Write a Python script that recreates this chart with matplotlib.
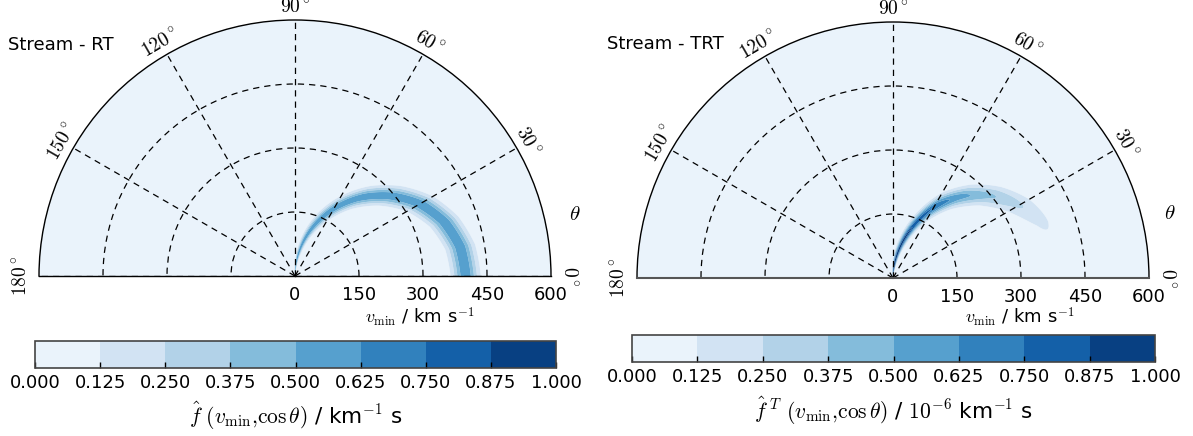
import numpy as np
import matplotlib
matplotlib.use('Agg')
import matplotlib.pyplot as plt

plt.rcParams['mathtext.fontset'] = 'cm'
plt.rcParams['font.family'] = ['DejaVu Sans']

W, H = 1193, 436

# ---------------- data ----------------
levels = [0.0, 0.125, 0.25, 0.375, 0.5, 0.625, 0.75, 0.875, 1.0]
level_labels = ['0.000', '0.125', '0.250', '0.375', '0.500', '0.625', '0.750', '0.875', '1.000']
theta_ticks_deg = [0, 30, 60, 90, 120, 150, 180]
r_ticks = [0, 150, 300, 450, 600]

# ridge description of each panel (angle in degrees -> ridge v_min, peak value, width)
ridge_theta_deg = [0, 10, 20, 30, 40, 50, 60, 70, 80, 90, 100]
rt_ridge_r = [400, 393, 372, 338, 292, 240, 182, 122, 60, 0, -60]
rt_ridge_amp = [0.60, 0.60, 0.60, 0.60, 0.60, 0.60, 0.60, 0.60, 0.60, 0.60, 0.60]
rt_ridge_width = [20, 20, 20, 20, 20, 20, 20, 20, 20, 20, 20]

trt_ridge_r = [400, 392, 373, 340, 298, 248, 190, 120, 55, 0, -55]
trt_ridge_amp = [0.00, 0.05, 0.15, 0.27, 0.40, 0.55, 0.74, 0.89, 0.97, 0.99, 0.99]
trt_ridge_width = [22, 22, 23, 23, 22, 22, 22, 22, 22, 22, 22]

titles = ['Stream - RT', 'Stream - TRT']
cbar_titles = [r'$\hat{f}\ (v_{\rm min}{,}\cos\theta)$ / km$^{-1}$ s',
               r'$\hat{f}^{\ T}\ (v_{\rm min}{,}\cos\theta)$ / $10^{-6}$ km$^{-1}$ s']


def build_field(r0, amp, sig):
    th = np.linspace(0, np.pi, 721)
    rr = np.linspace(0, 600, 901)
    TH, RR = np.meshgrid(th, rr)
    thd = np.degrees(th)
    R0 = np.interp(thd, ridge_theta_deg, r0)[None, :]
    A = np.interp(thd, ridge_theta_deg, amp)[None, :]
    S = np.interp(thd, ridge_theta_deg, sig)[None, :]
    Z = A * np.exp(-(RR - R0) ** 2 / (2 * S ** 2))
    return TH, RR, Z


fig = plt.figure(figsize=(W / 100, H / 100), dpi=100)

panels = [
    dict(ox=295, oy=276, R=256, field=(rt_ridge_r, rt_ridge_amp, rt_ridge_width),
         title_xy=(8, 45), theta_xy=(575, 214), xlabel_xy=(420, 323),
         cbar=(35, 341, 556, 368), cbar_label_y=416, base_color='k', base_lw=1.0),
    dict(ox=893, oy=278, R=256, field=(trt_ridge_r, trt_ridge_amp, trt_ridge_width),
         title_xy=(607, 44), theta_xy=(1170, 213), xlabel_xy=(1020, 323),
         cbar=(632, 335, 1155, 362), cbar_label_y=411, base_color='#555555', base_lw=1.5),
]

for i, p in enumerate(panels):
    ox, oy, R = p['ox'], p['oy'], p['R']
    # square axes whose wedge bbox (padded to square) holds the half disc
    cy = oy - R / 2
    left = ox - R
    top = cy - R
    rect = [left / W, (H - (top + 2 * R)) / H, 2 * R / W, 2 * R / H]
    ax = fig.add_axes(rect, projection='polar')
    ax.set_thetamin(0)
    ax.set_thetamax(180)

    TH, RR, Z = build_field(*p['field'])
    cs = ax.contourf(TH, RR, Z, levels=levels, cmap='Blues', antialiased=True)
    ax.set_rlim(0, 600)

    ax.set_xticks(np.radians(theta_ticks_deg))
    ax.set_xticklabels([])
    ax.set_yticks(r_ticks[1:-1])
    ax.set_yticklabels([])
    ax.tick_params(length=0)
    ax.grid(True, color='k', linestyle='--', linewidth=0.9, dashes=(5, 4))
    ax.spines['polar'].set_linewidth(1.0)
    ax.spines['polar'].set_color('k')
    for s in ('start', 'end', 'inner'):
        if s in ax.spines:
            ax.spines[s].set_color(p['base_color'])
            ax.spines[s].set_linewidth(p['base_lw'])

    # angle labels
    for d in theta_ticks_deg:
        rlab = 630 if d not in (0, 180) else 642
        ax.text(np.radians(d), rlab, r'$%d^\circ$' % d, rotation=d - 90,
                ha='center', va='center', fontsize=14)

    # radial labels under the baseline
    for rv in r_ticks:
        ax.annotate(f'{rv}', xy=(0, rv), xytext=(0, -13.5), textcoords='offset points',
                    ha='center', va='center', fontsize=13, annotation_clip=False)

    fig.text(p['title_xy'][0] / W, 1 - p['title_xy'][1] / H, titles[i],
             ha='left', va='center', fontsize=13)
    fig.text(p['theta_xy'][0] / W, 1 - p['theta_xy'][1] / H, r'$\theta$',
             ha='center', va='center', fontsize=15)
    fig.text(p['xlabel_xy'][0] / W, 1 - p['xlabel_xy'][1] / H,
             r'$v_{\rm min}$ / km s$^{-1}$', ha='center', va='baseline', fontsize=13)

    x0, y0, x1, y1 = p['cbar']
    cax = fig.add_axes([x0 / W, (H - y1) / H, (x1 - x0) / W, (y1 - y0) / H])
    cb = fig.colorbar(cs, cax=cax, orientation='horizontal', ticks=levels)
    cb.ax.set_xticklabels(level_labels)
    cb.ax.tick_params(direction='in', length=4, width=1, labelsize=13, color='k', pad=4)
    cb.outline.set_edgecolor('#444444')
    cb.outline.set_linewidth(1.2)
    fig.text((x0 + x1) / 2 / W, 1 - p['cbar_label_y'] / H, cbar_titles[i],
             ha='center', va='center', fontsize=15.5)

fig.savefig('out.png', dpi=100)
